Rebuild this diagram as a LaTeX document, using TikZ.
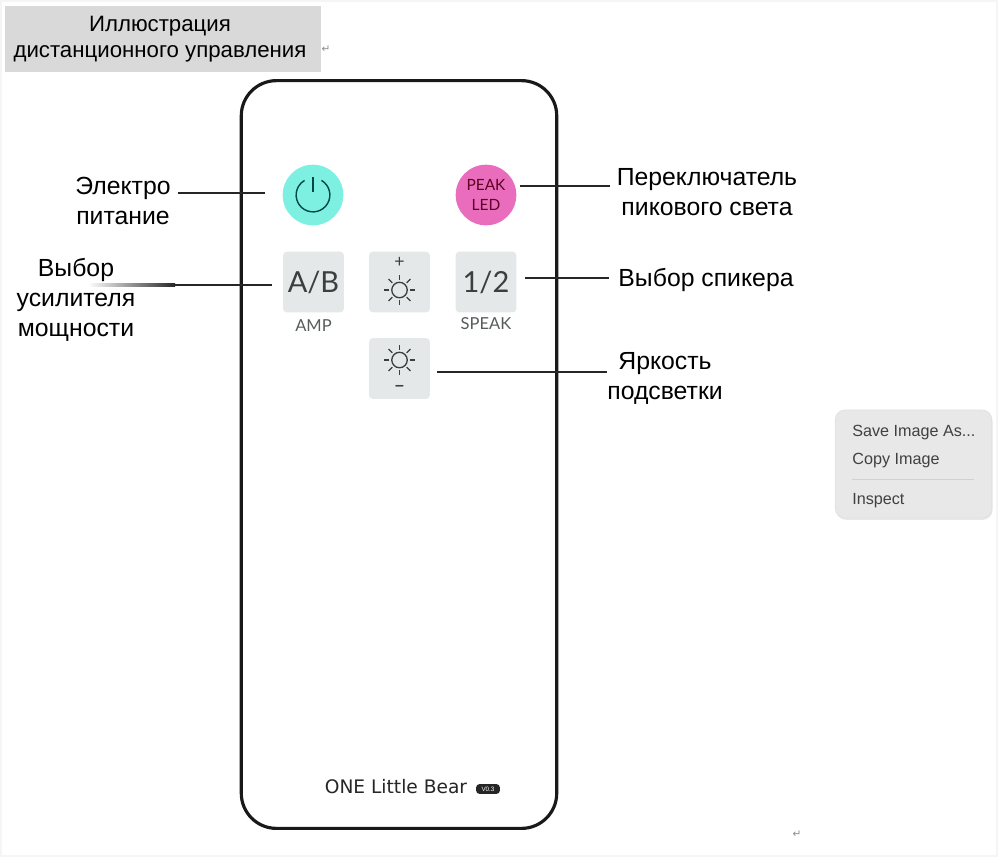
\documentclass[tikz,border=0pt]{standalone}
\usepackage{fontspec}
\setmainfont{Liberation Sans}
\newfontfamily\btnfont{Lato}
\newfontfamily\logofont{DejaVu Sans}
\usepackage{xcolor}
\usetikzlibrary{positioning,shadows}

\definecolor{titlegray}{HTML}{D9D9D9}
\definecolor{btngray}{HTML}{E4E8E9}
\definecolor{powercyan}{HTML}{7DF0E2}
\definecolor{peakpink}{HTML}{E96CBD}
\definecolor{menugray}{HTML}{E8E8E8}
\definecolor{inkgray}{HTML}{3A3F40}

\tikzset{
  callout/.style={font=\fontsize{14.1}{17}\selectfont, align=center, inner sep=0pt, text=black},
  wire/.style={line width=1.5pt, black!85},
  keybox/.style={fill=btngray, rounded corners=2pt, minimum width=34.5pt, minimum height=34.5pt, inner sep=0pt, text=inkgray},
  keylabel/.style={font=\btnfont\fontsize{9.4}{10}\selectfont, text=inkgray!85, inner sep=0pt},
  menuitem/.style={font=\fontsize{9.2}{11}\selectfont, text=black!75, inner sep=0pt, anchor=west},
  retmark/.style={font=\logofont\fontsize{6}{7}\selectfont, text=black!45, inner sep=0pt}
}

\newcommand{\sunicon}[1]{
  \draw[inkgray, line width=0.75pt] (#1) circle (4.4pt);
  \foreach \ang in {0,45,...,315}
    \draw[inkgray, line width=0.75pt] ([shift={(\ang:5.8pt)}]#1) -- ([shift={(\ang:8.8pt)}]#1);
}

\begin{document}
\begin{tikzpicture}[x=0.2mm, y=-0.2mm]
  \useasboundingbox (0,0) rectangle (1000,858);
  \fill[white] (0,0) rectangle (1000,858);
  \draw[black!4, line width=1.2pt] (1,1) rectangle (997,856);

  % Title
  \node[fill=titlegray, minimum width=180pt, minimum height=37.6pt, inner sep=0pt] (titlebox) at (163,39) {};
  \node[align=center, inner sep=0pt, font=\fontsize{12.65}{14.8}\selectfont] (titletext) at (160,39)
        {Иллюстрация\\дистанционного управления};
  \node[retmark] (titleret) at (326,49) {↵};

  % Remote body
  \node[draw=black!90, line width=1.8pt, rounded corners=20pt, minimum width=179.5pt, minimum height=425.5pt,
        inner sep=0pt] (remote) at (399,454.5) {};

  % Buttons
  \node[circle, fill=powercyan, minimum size=34.5pt, inner sep=0pt] (power) at (313,195) {};
  \draw[black!30!teal!80!black, line width=0.8pt] ([shift={(60:9.6pt)}]power.center) arc (60:-240:9.6pt);
  \draw[black!30!teal!80!black, line width=0.8pt] ([yshift=1.5pt]power.center) -- ([yshift=10.5pt]power.center);
  \node[circle, fill=peakpink, minimum size=34.5pt, inner sep=0pt, align=center, text=black!50!purple,
        font=\btnfont\fontsize{8.8}{11}\selectfont] (peak) at (486,195) {PEAK\\LED};
  \node[keybox, font=\btnfont\fontsize{16.5}{18}\selectfont] (amp) at (313.5,282) {A/B};
  \node[keybox, font=\btnfont\fontsize{16.5}{18}\selectfont] (speak) at (486,282) {1/2};
  \node[keybox] (brightup) at (399.5,282) {};
  \node[keybox] (brightdown) at (399.5,368.5) {};
  \node[keylabel, below=3.8pt of amp] (amplabel) {AMP};
  \node[keylabel, below=2.8pt of speak] (speaklabel) {SPEAK};
  \node[inkgray, font=\fontsize{10}{10}\selectfont, inner sep=0pt] (upsign) at (399.5,262) {+};
  \node[inkgray, font=\bfseries\fontsize{9}{9}\selectfont, inner sep=0pt] (downsign) at (399.5,388) {–};
  \sunicon{399.5,290}
  \sunicon{399.5,360}

  % Brand
  \node[font=\logofont\fontsize{10.6}{12}\selectfont, text=black!85, inner sep=0pt] (brand) at (396,787) {ONE Little Bear};
  \node[fill=black!85, rounded corners=2pt, minimum width=13.6pt, minimum height=5.6pt, inner sep=0pt,
        text=white, font=\fontsize{3.6}{4}\selectfont] (badge) at (488,789) {V0.3};

  % Labels
  \node[callout] (powerlabel) at (123,201) {Электро\\питание};
  \node[callout] (peaklabel) at (707,192) {Переключатель\\пикового света};
  \node[callout] (amptext) at (76,300) {Выбор\\усилителя\\мощности};
  \node[callout] (speaktext) at (706,279.5) {Выбор спикера};
  \node[callout] (brighttext) at (665,378.5) {Яркость\\подсветки};

  % Connectors
  \coordinate (ampfade) at (175,285);
  \shade[left color=white, right color=black!85] (88,283.7) rectangle (175,286.3);
  \draw[wire, shorten <=4pt, shorten >=10pt] (powerlabel.east |- 0,193) -- (power.west |- 0,193);
  \draw[wire, shorten <=2pt, shorten >=3.5pt] (peak.east |- 0,186) -- (peaklabel.west |- 0,186);
  \draw[wire, shorten >=6pt] (ampfade) -- (amp.west |- ampfade);
  \draw[wire, shorten <=5pt, shorten >=5pt] (speak.east |- 0,278) -- (speaktext.west |- 0,278);
  \draw[wire, shorten <=4pt] (brightdown.east |- 0,372) -- (brighttext.west |- 0,372);

  % Context menu
  \node[fill=menugray, draw=black!12, rounded corners=5.5pt, minimum width=89pt, minimum height=61.5pt, inner sep=0pt,
        drop shadow={opacity=0.18, shadow xshift=0.5pt, shadow yshift=-1pt}] (menu) at (913.5,464) {};
  \node[menuitem] (saveitem) at (852,433) {Save Image As...};
  \node[menuitem] (copyitem) at (852,461) {Copy Image};
  \node[menuitem] (inspectitem) at (852,501) {Inspect};
  \draw[black!18, line width=0.5pt] (852,479) -- (974,479);

  \node[retmark] (pageret) at (797,834) {↵};
\end{tikzpicture}
\end{document}
